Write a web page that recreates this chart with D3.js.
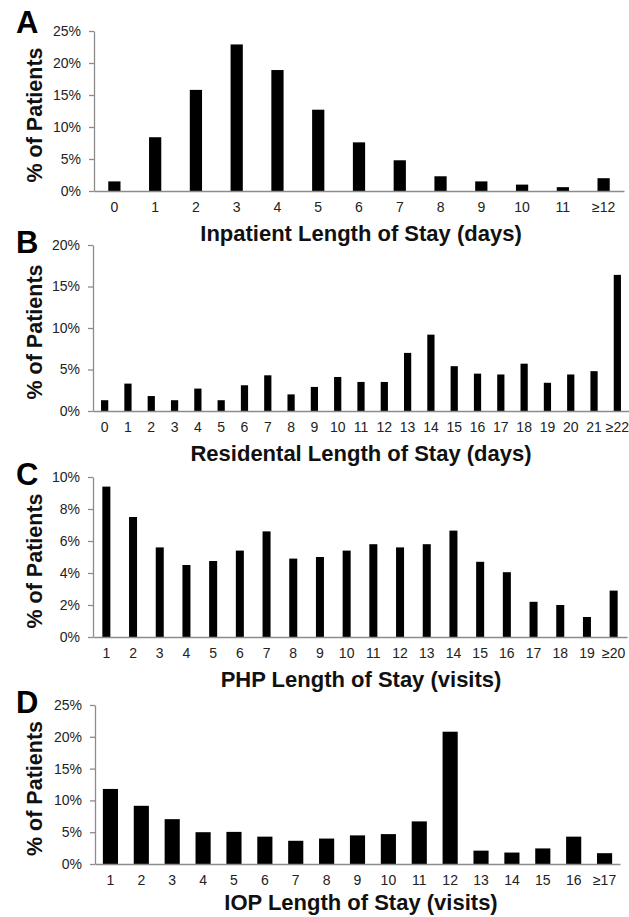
<!DOCTYPE html>
<html>
<head>
<meta charset="utf-8">
<script src="https://cdn.jsdelivr.net/npm/d3@7"></script>
<style>
  body { margin: 0; background: #fff; }
  text { font-family: "Liberation Sans", Arial, sans-serif; }
  .tick text { fill: #222; font-size: 14px; }
  .domain { stroke: #8c8c8c; stroke-width: 1.3px; }
  .tick line { stroke: #8c8c8c; stroke-width: 1.3px; }
  .ttl { font-weight: bold; font-size: 22px; fill: #111; }
  .ytl { font-weight: bold; font-size: 21.5px; fill: #111; }
  .letter { font-weight: bold; font-size: 31px; fill: #000; }
</style>
</head>
<body>
<div id="chart"></div>
<script>
// values (% of patients)
const inpatientCats = ['0','1','2','3','4','5','6','7','8','9','10','11','≥12'];
const inpatientVals = [1.5, 8.4, 15.8, 22.9, 18.9, 12.7, 7.6, 4.8, 2.3, 1.5, 1.0, 0.6, 2.0];
const inpatientTicks = [0, 5, 10, 15, 20, 25];

const residentialCats = ['0','1','2','3','4','5','6','7','8','9','10','11','12','13','14','15','16','17','18','19','20','21','≥22'];
const residentialVals = [1.3, 3.3, 1.8, 1.3, 2.7, 1.3, 3.1, 4.3, 2.0, 2.9, 4.1, 3.5, 3.5, 7.0, 9.2, 5.4, 4.5, 4.4, 5.7, 3.4, 4.4, 4.8, 16.4];
const residentialTicks = [0, 5, 10, 15, 20];

const phpCats = ['1','2','3','4','5','6','7','8','9','10','11','12','13','14','15','16','17','18','19','≥20'];
const phpVals = [9.4, 7.5, 5.6, 4.5, 4.75, 5.4, 6.6, 4.9, 5.0, 5.4, 5.8, 5.6, 5.8, 6.65, 4.7, 4.05, 2.2, 2.0, 1.25, 2.9];
const phpTicks = [0, 2, 4, 6, 8, 10];

const iopCats = ['1','2','3','4','5','6','7','8','9','10','11','12','13','14','15','16','≥17'];
const iopVals = [11.8, 9.15, 7.05, 5.0, 5.05, 4.3, 3.65, 4.0, 4.5, 4.7, 6.7, 20.8, 2.1, 1.8, 2.45, 4.3, 1.7];
const iopTicks = [0, 5, 10, 15, 20, 25];

const panels = [
  { letter: 'A', title: 'Inpatient Length of Stay (days)', cats: inpatientCats, vals: inpatientVals, ticks: inpatientTicks,
    x0: 94, x1: 624, top: 31, bottom: 191, pad: 0.7, letterY: 33, titleY: 241 },
  { letter: 'B', title: 'Residental Length of Stay (days)', cats: residentialCats, vals: residentialVals, ticks: residentialTicks,
    x0: 93, x1: 629, top: 245, bottom: 411, pad: 0.69, letterY: 253, titleY: 461 },
  { letter: 'C', title: 'PHP Length of Stay (visits)', cats: phpCats, vals: phpVals, ticks: phpTicks,
    x0: 93, x1: 627, top: 477, bottom: 637, pad: 0.7, letterY: 485, titleY: 687 },
  { letter: 'D', title: 'IOP Length of Stay (visits)', cats: iopCats, vals: iopVals, ticks: iopTicks,
    x0: 95, x1: 620, top: 705, bottom: 864, pad: 0.51, letterY: 713, titleY: 910 }
];

const svg = d3.select('#chart').append('svg')
  .attr('width', 629)
  .attr('height', 917);

panels.forEach(p => {
  const g = svg.append('g');
  const x = d3.scaleBand().domain(p.cats).range([p.x0, p.x1])
    .paddingInner(p.pad).paddingOuter(p.pad / 2);
  const y = d3.scaleLinear().domain([0, d3.max(p.ticks)]).range([p.bottom, p.top]);

  g.selectAll('rect.bar')
    .data(p.vals)
    .enter().append('rect')
    .attr('class', 'bar')
    .attr('x', (d, i) => x(p.cats[i]))
    .attr('width', x.bandwidth())
    .attr('y', d => y(d))
    .attr('height', d => y(0) - y(d))
    .attr('fill', '#000');

  g.append('g')
    .attr('transform', `translate(${p.x0},0)`)
    .call(d3.axisLeft(y).tickValues(p.ticks).tickFormat(d => d + '%').tickSize(5).tickSizeOuter(0).tickPadding(8))
    .call(a => a.selectAll('text').attr('font-family', null));

  g.append('g')
    .attr('transform', `translate(0,${p.bottom})`)
    .call(d3.axisBottom(x).tickSize(0).tickSizeOuter(0).tickPadding(11.5))
    .call(a => a.selectAll('text').attr('font-family', null));

  g.append('text')
    .attr('class', 'ttl')
    .attr('x', 361)
    .attr('y', p.titleY)
    .attr('text-anchor', 'middle')
    .text(p.title);

  g.append('text')
    .attr('class', 'ytl')
    .attr('transform', `translate(41.5,${(p.top + p.bottom) / 2 + 4}) rotate(-90)`)
    .attr('text-anchor', 'middle')
    .text('% of Patients');

  g.append('text')
    .attr('class', 'letter')
    .attr('x', 16)
    .attr('y', p.letterY)
    .text(p.letter);
});
</script>
</body>
</html>
